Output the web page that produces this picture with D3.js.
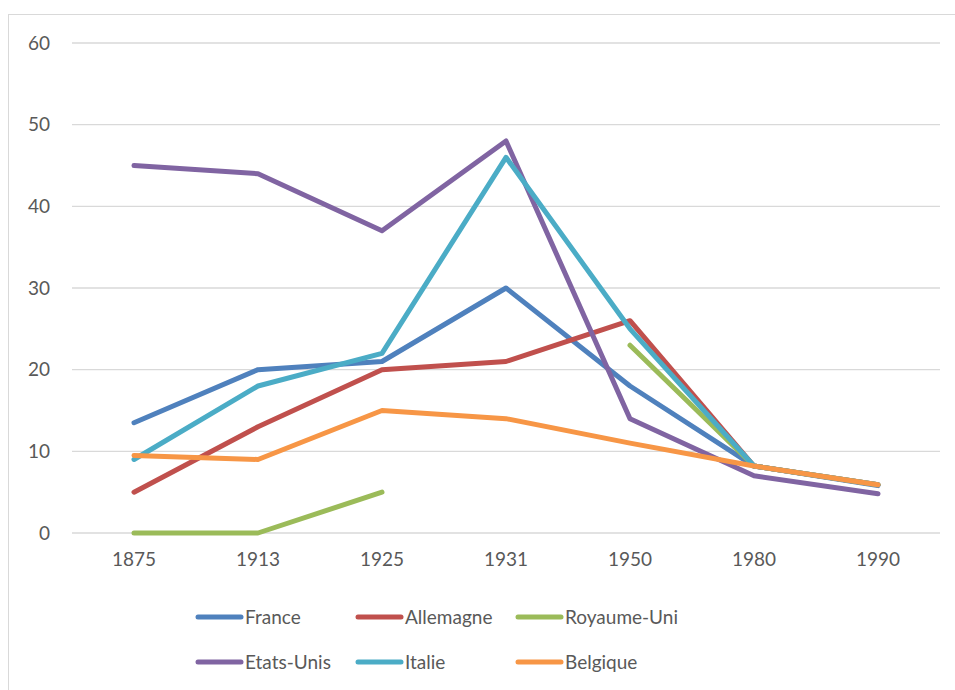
<!DOCTYPE html>
<html>
<head>
<meta charset="utf-8">
<script src="https://cdn.jsdelivr.net/npm/d3@7"></script>
<style>
	body { margin: 0; background: #fff; }
	text { font-family: Lato, "Open Sans", sans-serif; fill: #595959; }
</style>
</head>
<body>
<div id="chart"></div>
<script>
	// data
	var years = ["1875", "1913", "1925", "1931", "1950", "1980", "1990"];
	var yTicks = [0, 10, 20, 30, 40, 50, 60];

	var france = [13.5, 20, 21, 30, 18, 8.2, 5.8];
	var allemagne = [5, 13, 20, 21, 26, 8.2, 5.9];
	var royaumeUni = [0, 0, 5, null, 23, 8.2, 5.9];
	var etatsUnis = [45, 44, 37, 48, 14, 7, 4.8];
	var italie = [9, 18, 22, 46, 25, 8.2, 5.9];
	var belgique = [9.5, 9, 15, 14, 11, 8.2, 5.9];

	var names = ["France", "Allemagne", "Royaume-Uni", "Etats-Unis", "Italie", "Belgique"];
	var values = [france, allemagne, royaumeUni, etatsUnis, italie, belgique];
	var colors = ["#4F81BD", "#C0504D", "#9BBB59", "#8064A2", "#4BACC6", "#F79646"];

	// set the stage
	var W = 955, H = 690,
		margin = {t:43, l:72, r:15},
		w = W - margin.l - margin.r,
		h = 533 - margin.t;

	var svg = d3.select("#chart").append("svg")
		.attr("width", W)
		.attr("height", H);

	// chart border
	svg.append("rect")
		.attr("x", 8.5).attr("y", 14.5)
		.attr("width", 980).attr("height", 720)
		.style("fill", "none")
		.style("stroke", "#d9d9d9");

	var x = d3.scaleBand().domain(years).range([0, w]);
	var y = d3.scaleLinear().domain([0, 60]).range([h, 0]);

	var g = svg.append("g").attr("transform", "translate(" + margin.l + "," + margin.t + ")");

	// gridlines
	g.selectAll(".grid")
		.data(yTicks)
	  .enter().append("line")
		.attr("x1", 0).attr("x2", w)
		.attr("y1", function(d) { return y(d); })
		.attr("y2", function(d) { return y(d); })
		.style("stroke", "#d9d9d9")
		.style("stroke-width", 1.3);

	// axes (text only, like Excel)
	var yAxis = g.append("g")
		.call(d3.axisLeft(y).tickValues(yTicks).tickSize(0).tickPadding(22));
	yAxis.select(".domain").remove();
	yAxis.selectAll("text").style("font-size", "19px").style("fill", "#595959").attr("font-family", null);

	var xAxis = g.append("g")
		.attr("transform", "translate(0," + h + ")")
		.call(d3.axisBottom(x).tickSize(0).tickPadding(20));
	xAxis.select(".domain").remove();
	xAxis.selectAll("text").style("font-size", "19px").style("fill", "#595959").attr("font-family", null);

	// the lines
	var line = d3.line()
		.defined(function(d) { return d != null; })
		.x(function(d, i) { return x(years[i]) + x.bandwidth() / 2; })
		.y(function(d) { return y(d); });

	g.selectAll(".series")
		.data(values)
	  .enter().append("path")
		.attr("class", "series")
		.attr("d", line)
		.style("fill", "none")
		.style("stroke", function(d, i) { return colors[i]; })
		.style("stroke-width", 5)
		.style("stroke-linecap", "round")
		.style("stroke-linejoin", "round");

	// legend
	var legend = svg.selectAll(".legend")
		.data(names)
	  .enter().append("g")
		.attr("class", "legend")
		.attr("transform", function(d, i) {
			return "translate(" + (198 + (i % 3) * 160) + "," + (617 + Math.floor(i / 3) * 45) + ")";
		});

	legend.append("line")
		.attr("x1", 0).attr("x2", 43)
		.style("stroke", function(d, i) { return colors[i]; })
		.style("stroke-width", 5)
		.style("stroke-linecap", "round");

	legend.append("text")
		.attr("x", 47)
		.attr("dy", "0.35em")
		.style("font-size", "19px")
		.text(function(d) { return d; });
</script>
</body>
</html>
